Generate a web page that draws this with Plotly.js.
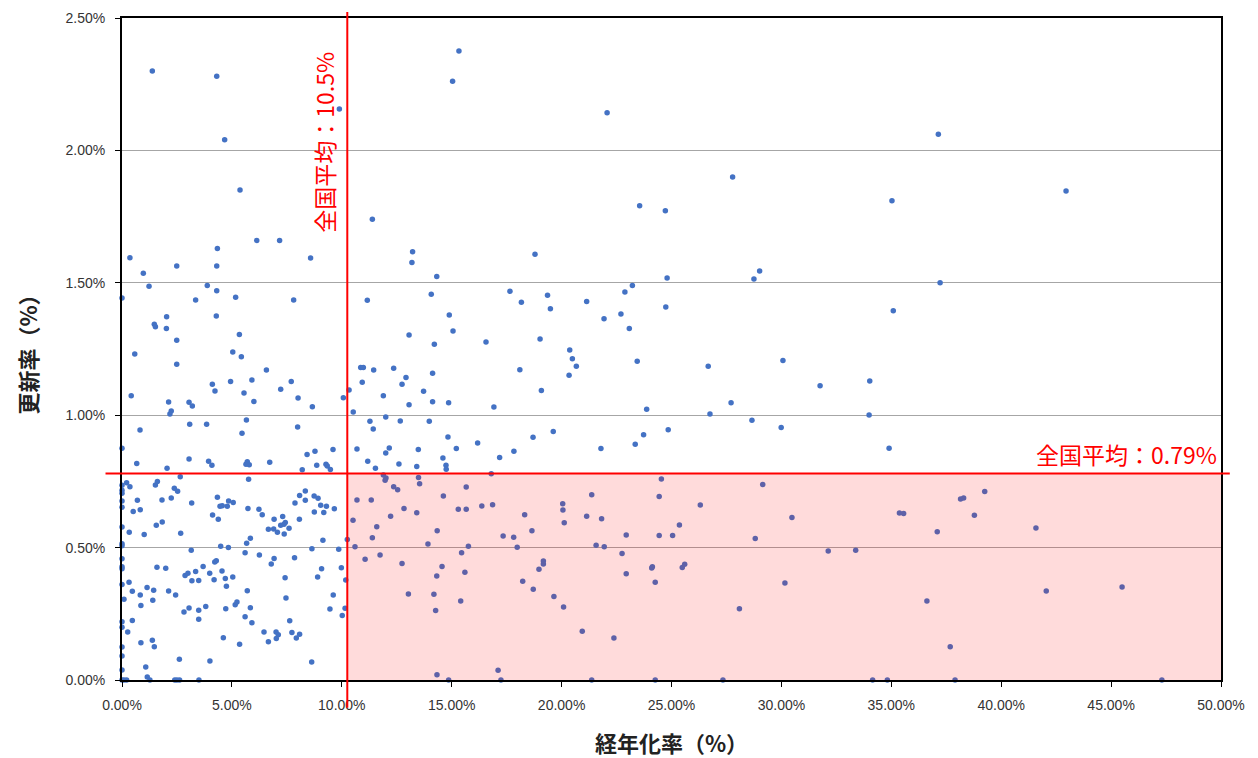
<!DOCTYPE html>
<html>
<head>
<meta charset="utf-8">
<script src="https://cdn.plot.ly/plotly-3.0.1.min.js"></script>
<style>html,body{margin:0;padding:0;background:#fff;}#chart{width:1258px;height:758px;}</style>
</head>
<body>
<div id="chart"></div>
<script>
// 経年化率 (%) — x values
const agingRate = [
1.38,4.31,9.89,4.67,5.37,11.39,6.13,7.17,4.34,0.36,8.58,2.49,4.31,0.97,1.23,3.88,4.31,0,3.35,5.17,7.81,11.16,2.03,4.29,1.47,1.52,2.02,5.34,2.49,
0.58,5.04,5.43,2.49,6.57,10.86,10.98,11.45,0.42,4.11,4.23,4.94,5.91,5.55,6.0,7.22,7.70,8.01,8.66,10.07,10.33,10.93,11.89,2.12,2.24,2.18,3.05,3.2,10.52,
0.82,3.08,3.85,5.66,5.46,7.99,11.28,11.43,12.0,0,0.67,2.05,3.05,3.94,4.09,5.70,5.64,5.79,5.76,6.72,8.2,8.42,8.78,8.86,9.28,9.34,9.48,9.60,10.69,11.18,11.53,12.16,
0.21,0.36,0,0,0,0,0,1.52,1.61,2.65,2.38,2.53,2.24,1.82,0.70,0.51,0.83,3.17,4.34,4.46,4.56,4.79,4.85,5.06,4.12,4.38,5.73,6.23,6.38,6.92,7.31,7.43,7.37,7.22,7.6,
6.66,6.90,7.07,7.38,7.87,8.08,8.34,8.34,8.74,8.92,9.04,9.30,8.75,9.18,9.66,8.07,0,0.33,1.01,1.56,1.83,2.67,3.15,4.49,4.84,5.67,5.84,5.6,6.25,7.85,8.64,9.14,9.86,10.25,
0,0,0,0,0,0,0.09,0.32,0.47,0.83,0.86,1.14,1.44,1.40,1.59,1.99,2.12,2.44,2.87,3.0,3.18,3.49,3.35,3.69,3.99,4.19,4.22,4.29,4.55,4.70,4.75,5.04,
2.82,3.05,3.49,3.49,3.81,4.72,5.15,5.23,5.70,5.84,5.60,5.91,6.79,6.92,7.42,7.46,7.63,6.46,6.66,7.01,7.11,7.02,7.73,7.93,8.08,8.90,9.08,9.98,10.18,9.61,9.46,10.02,10.15,8.63,
0,0,0.26,0.86,1.38,1.47,0.47,4.61,5.35,2.61,4.0,1.08,0,0,0,1.15,1.27,0,0.09,0.21,2.4,2.5,2.62,3.5,
10.69,11.34,10.51,10.6,11.06,11.39,11.59,
15.33,15.04,22.07,23.55,13.22,13.19,18.79,14.32,14.07,17.65,18.17,19.36,19.49,21.14,22.88,23.22,14.89,22.7,21.93,23.08,13.06,15.06,14.21,16.56,19.02,20.37,
20.49,20.67,20.34,23.44,12.36,12.92,12.74,14.13,18.1,13.72,13.06,14.13,14.86,16.92,19.08,23.87,12.66,13.98,14.83,15.21,16.18,17.83,18.7,19.62,21.79,23.35,23.73,
12.0,13.48,12.6,13.41,14.6,14.74,14.75,17.18,16.8,11.89,12.01,11.97,13.49,13.54,12.36,12.54,15.66,14.62,12.83,12.22,13.41,15.3,15.66,16.37,16.86,18.32,
20.05,20.06,20.12,21.37,21.14,21.82,24.44,14.34,18.65,17.34,17.82,13.92,15.76,15.45,17.98,11.74,12.74,14.56,14.32,15.6,19.17,19.17,18.97,18.23,18.71,
21.57,21.94,22.94,24.44,22.75,22.94,24.13,24.1,24.26,13.03,14.19,14.27,15.41,19.65,20.09,20.94,22.38,14.33,17.11,14.86,17.24,21.37,24.26,
37.14,27.78,24.72,35.03,24.8,28.75,29.01,24.74,35.09,37.22,42.95,
26.67,30.07,31.76,34.02,27.71,26.75,28.66,29.99,33.99,24.85,34.9,24.54,29.15,26.31,30.48,25.36,25.05,28.81,35.37,35.56,37.09,32.13,33.38,25.49,25.6,30.16,28.09,36.62,27.34,34.15,34.82,
39.25,38.15,38.29,38.78,41.58,42.05,45.5,37.68,37.9,47.31
];
// 更新率 (%) — y values
const renewalRate = [
2.30,2.28,2.156,2.04,1.85,1.74,1.66,1.66,1.63,1.595,1.594,1.563,1.563,1.536,1.487,1.49,1.47,1.443,1.435,1.445,1.435,1.434,1.372,1.375,1.343,1.334,1.327,1.305,1.283,
1.231,1.239,1.221,1.192,1.171,1.18,1.18,1.171,1.073,1.117,1.091,1.127,1.133,1.084,1.052,1.098,1.127,1.065,1.032,1.066,1.095,1.124,1.073,1.05,1.016,1.005,1.049,1.035,1.012,
0.944,0.966,0.966,0.982,0.932,0.955,0.977,0.948,0.993,0.875,0.818,0.80,0.835,0.826,0.811,0.824,0.815,0.813,0.758,0.822,0.794,0.852,0.864,0.811,0.815,0.808,0.795,0.87,0.872,0.826,0.80,0.876,
0.745,0.73,0.735,0.717,0.705,0.676,0.652,0.736,0.75,0.768,0.724,0.713,0.687,0.68,0.679,0.636,0.643,0.668,0.69,0.656,0.658,0.656,0.676,0.67,0.623,0.607,0.648,0.645,0.624,0.607,0.617,0.595,0.588,0.584,0.573,
0.569,0.57,0.558,0.551,0.668,0.697,0.714,0.679,0.695,0.686,0.66,0.656,0.634,0.633,0.647,0.607,0.578,0.558,0.549,0.584,0.597,0.554,0.49,0.505,0.50,0.516,0.535,0.481,0.472,0.462,0.496,0.528,0.494,0.531,
0.515,0.507,0.458,0.428,0.42,0.361,0.305,0.369,0.335,0.321,0.281,0.349,0.339,0.301,0.426,0.422,0.336,0.321,0.395,0.403,0.375,0.376,0.41,0.429,0.403,0.379,0.446,0.45,0.412,0.383,0.354,0.389,
0.257,0.272,0.263,0.229,0.278,0.269,0.284,0.295,0.337,0.273,0.239,0.216,0.438,0.459,0.386,0.31,0.224,0.181,0.144,0.181,0.171,0.157,0.179,0.159,0.173,0.389,0.42,0.424,0.378,0.321,0.268,0.244,0.271,0.068,
0.22,0.199,0.181,0.141,0.15,0.126,0.225,0.16,0.135,0.078,0.072,0.049,0.125,0.091,0.038,0.011,0,0,0,0,0,0,0,0,
0.68,0.68,0.603,0.503,0.456,0.537,0.579,
2.375,2.261,2.142,1.791,1.617,1.577,1.608,1.524,1.457,1.468,1.427,1.453,1.402,1.429,1.465,1.49,1.378,1.382,1.364,1.327,1.303,1.318,1.268,1.276,1.288,1.246,
1.213,1.185,1.151,1.204,1.177,1.142,1.117,1.158,1.172,1.09,1.039,1.051,1.047,1.031,1.093,1.022,0.978,0.977,0.918,0.874,0.895,0.864,0.917,0.938,0.874,0.89,0.926,
0.857,0.87,0.816,0.806,0.838,0.811,0.796,0.84,0.779,0.774,0.763,0.754,0.765,0.741,0.73,0.718,0.729,0.695,0.648,0.618,0.632,0.645,0.645,0.657,0.662,0.624,
0.666,0.642,0.594,0.70,0.618,0.609,0.693,0.564,0.564,0.544,0.539,0.514,0.505,0.481,0.501,0.472,0.44,0.429,0.393,0.407,0.449,0.438,0.418,0.373,0.343,
0.509,0.503,0.548,0.546,0.478,0.401,0.428,0.423,0.369,0.325,0.324,0.262,0.298,0.315,0.276,0.184,0.159,0.02,0.037,0,0,0,0,
2.061,1.90,1.772,1.81,1.518,1.514,1.545,1.409,1.394,1.50,1.847,
1.185,1.207,1.111,1.129,1.047,1.005,0.981,0.954,1.001,0.945,0.875,0.759,0.738,0.661,0.614,0.585,0.546,0.534,0.631,0.629,0.56,0.487,0.49,0.425,0.437,0.366,0.269,0.298,0,0,0,
0.712,0.684,0.687,0.622,0.574,0.336,0.351,0.126,0,0
];

const xTickVals = [0,5,10,15,20,25,30,35,40,45,50];
const xTickText = ["0.00%","5.00%","10.00%","15.00%","20.00%","25.00%","30.00%","35.00%","40.00%","45.00%","50.00%"];
const yTickVals = [0,0.5,1,1.5,2,2.5];
const yTickText = ["0.00%","0.50%","1.00%","1.50%","2.00%","2.50%"];

const avgAgingLine = 10.25;   // position of the national-average vertical line
const avgRenewalLine = 0.78;  // position of the national-average horizontal line
const avgAgingLabel = "全国平均：10.5%";
const avgRenewalLabel = "全国平均：0.79%";

const xRange = [0, 50];
const yRange = [0, 2.5];

const xPaper = (avgAgingLine - xRange[0]) / (xRange[1] - xRange[0]);
const yPaper = (avgRenewalLine - yRange[0]) / (yRange[1] - yRange[0]);

const trace = {
  x: agingRate,
  y: renewalRate,
  type: 'scatter',
  mode: 'markers',
  marker: {color: '#4472C4', size: 5.5},
  cliponaxis: false,
  hoverinfo: 'x+y'
};

const tickFont = {family: 'Liberation Sans Narrow, Liberation Sans, Arial, sans-serif', size: 14, color: '#333'};
const cjk = 'Noto Sans CJK JP, Noto Sans, sans-serif';

const layout = {
  width: 1258, height: 758,
  margin: {l: 122, r: 37, t: 18, b: 78},
  paper_bgcolor: '#fff', plot_bgcolor: '#fff',
  showlegend: false,
  xaxis: {
    range: xRange, tickvals: xTickVals, ticktext: xTickText,
    showgrid: false, zeroline: false,
    showline: true, linecolor: '#000', linewidth: 2, mirror: true,
    ticks: 'outside', ticklen: 5, tickcolor: '#000', tickwidth: 1,
    ticklabelstandoff: 6,
    tickfont: tickFont,
    title: {text: '経年化率（%）', font: {family: cjk, size: 22, color: '#222', weight: 'bold'}, standoff: 26}
  },
  yaxis: {
    range: yRange, tickvals: yTickVals, ticktext: yTickText,
    showgrid: true, gridcolor: '#A6A6A6', gridwidth: 1, zeroline: false,
    showline: true, linecolor: '#000', linewidth: 2, mirror: true,
    ticks: 'outside', ticklen: 5, tickcolor: '#000', tickwidth: 1,
    ticklabelstandoff: 7,
    tickfont: tickFont,
    title: {text: '更新率（%）', font: {family: cjk, size: 22, color: '#222', weight: 'bold'}, standoff: 22}
  },
  shapes: [
    {type: 'rect', xref: 'x', yref: 'y', x0: avgAgingLine, x1: xRange[1], y0: yRange[0], y1: avgRenewalLine,
     fillcolor: 'rgba(255,0,0,0.14)', line: {width: 0}, layer: 'above'},
    {type: 'line', xref: 'paper', yref: 'paper', x0: -0.015, x1: 1.008, y0: yPaper, y1: yPaper,
     line: {color: '#FF0000', width: 2}, layer: 'above'},
    {type: 'line', xref: 'paper', yref: 'paper', x0: xPaper, x1: xPaper, y0: -0.042, y1: 1.009,
     line: {color: '#FF0000', width: 2}, layer: 'above'}
  ],
  annotations: [
    {text: avgAgingLabel, xref: 'paper', yref: 'paper', x: xPaper, y: 0.812, xanchor: 'right', yanchor: 'middle',
     xshift: -4, textangle: -90, showarrow: false, font: {family: cjk, size: 23, color: '#FF0000'}},
    {text: avgRenewalLabel, xref: 'paper', yref: 'paper', x: 1, y: yPaper, xanchor: 'right', yanchor: 'bottom',
     xshift: -2, yshift: 0, showarrow: false, font: {family: cjk, size: 23, color: '#FF0000'}}
  ]
};

Plotly.newPlot('chart', [trace], layout, {displayModeBar: false, staticPlot: true});
</script>
</body>
</html>
